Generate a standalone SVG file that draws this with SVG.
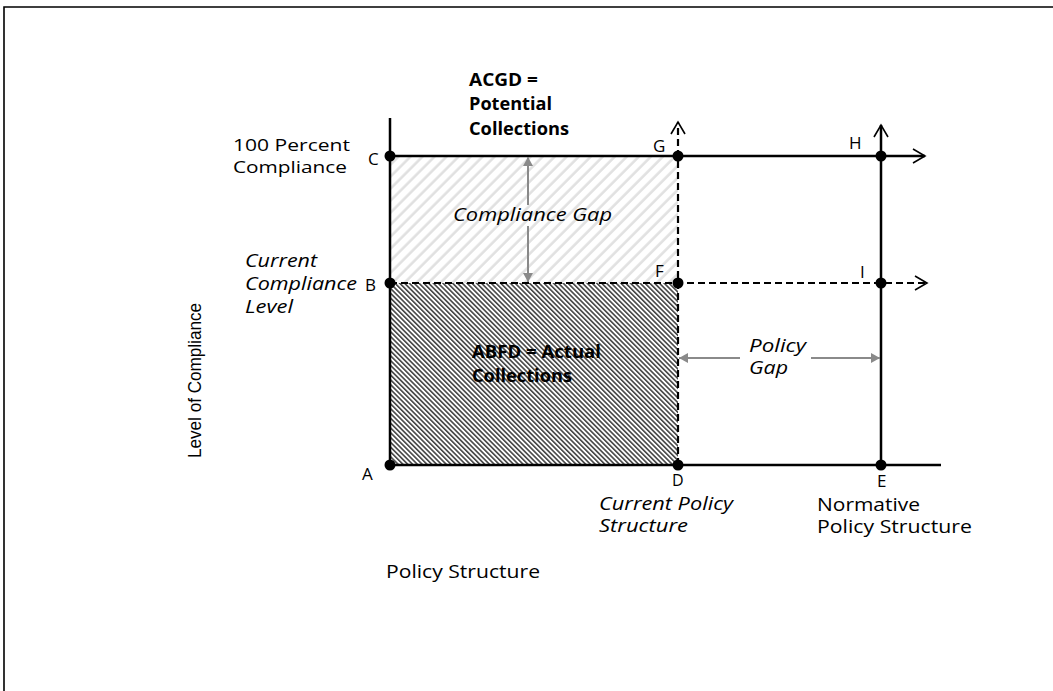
<svg xmlns="http://www.w3.org/2000/svg" width="1053" height="691" viewBox="0 0 1053 691">
<defs>
<style>
text{font-family:"Open Sans","Liberation Sans",sans-serif;font-size:18px;fill:#000}
.it{font-style:italic}
.b{font-weight:bold}
.lab{font-size:17px}
.sm{font-size:17px}
.ax{stroke:#000;stroke-width:2.5;fill:none}
.dash{stroke:#000;stroke-width:2.2;stroke-dasharray:7 4;fill:none}
.gap{stroke:#8a8a8a;stroke-width:2;fill:none}
.dot{fill:#000}
</style>
<pattern id="light" width="8.5" height="8.5" patternUnits="userSpaceOnUse" patternTransform="rotate(45)">
<rect width="8.5" height="8.5" fill="#fff"/>
<line x1="1.5" y1="0" x2="1.5" y2="8.5" stroke="#e0e0e0" stroke-width="2.5"/>
</pattern>
<pattern id="dark" width="3.4" height="3.4" patternUnits="userSpaceOnUse" patternTransform="rotate(-45)">
<rect width="3.4" height="3.4" fill="#fff"/>
<line x1="0.8" y1="0" x2="0.8" y2="3.4" stroke="#444" stroke-width="1.6"/>
</pattern>
<marker id="open" viewBox="-14 -9 16 18" markerWidth="16" markerHeight="18" refX="0" refY="0" orient="auto" markerUnits="userSpaceOnUse">
<path d="M-12,-7 L0,0 L-12,7" fill="none" stroke="#000" stroke-width="1.6"/>
</marker>
<marker id="gray" viewBox="-10 -6 12 12" markerWidth="12" markerHeight="12" refX="0" refY="0" orient="auto" markerUnits="userSpaceOnUse">
<path d="M-9,-5 L0,0 L-9,5 Z" fill="#8a8a8a"/>
</marker>
</defs>
<rect width="1053" height="691" fill="#fff"/>
<path d="M4,691 L4,7 L1053,7" fill="none" stroke="#000" stroke-width="1.6"/>

<g id="regions">
<rect x="390" y="156" width="288" height="127" fill="url(#light)"/>
<rect x="390" y="283" width="288" height="182" fill="url(#dark)"/>
</g>

<g id="connectors">
<line class="ax" x1="390" y1="118" x2="390" y2="465"/>
<line class="ax" x1="390" y1="465" x2="941" y2="465"/>
<line class="ax" x1="390" y1="156" x2="925" y2="156" marker-end="url(#open)"/>
<line class="dash" x1="390" y1="283" x2="927" y2="283" marker-end="url(#open)"/>
<line class="dash" x1="678" y1="465" x2="678" y2="122" marker-end="url(#open)"/>
<line class="ax" x1="881" y1="465" x2="881" y2="125" marker-end="url(#open)"/>
<line class="gap" x1="528" y1="205" x2="528" y2="157" marker-end="url(#gray)"/>
<line class="gap" x1="528" y1="226" x2="528" y2="282" marker-end="url(#gray)"/>
<line class="gap" x1="740" y1="358" x2="679" y2="358" marker-end="url(#gray)"/>
<line class="gap" x1="811" y1="358" x2="880" y2="358" marker-end="url(#gray)"/>
</g>

<g id="points">
<circle class="dot" cx="390" cy="156" r="5.5"/>
<circle class="dot" cx="678" cy="156" r="5.5"/>
<circle class="dot" cx="881" cy="156" r="5.5"/>
<circle class="dot" cx="390" cy="283" r="5.5"/>
<circle class="dot" cx="678" cy="283" r="5.5"/>
<circle class="dot" cx="881" cy="283" r="5.5"/>
<circle class="dot" cx="390" cy="465" r="5.5"/>
<circle class="dot" cx="678" cy="465" r="5.5"/>
<circle class="dot" cx="881" cy="465" r="5.5"/>
</g>

<g id="point-labels">
<text class="lab" x="368" y="165">C</text>
<text class="lab" x="653" y="152">G</text>
<text class="lab" x="849" y="149">H</text>
<text class="lab" x="365" y="291">B</text>
<text class="lab" x="655" y="277">F</text>
<text class="lab" x="860" y="278">I</text>
<text class="lab" x="362" y="480">A</text>
<text class="lab" x="672" y="486" style="font-size:16px">D</text>
<text class="lab" x="877" y="487">E</text>
</g>

<g id="acgd">
<text class="b" x="469" y="86" textLength="69" lengthAdjust="spacingAndGlyphs">ACGD =</text>
<text class="b" x="469" y="110" textLength="83" lengthAdjust="spacingAndGlyphs">Potential</text>
<text class="b" x="469" y="135" textLength="100" lengthAdjust="spacingAndGlyphs">Collections</text>
</g>

<g id="abfd">
<text class="b" x="472" y="358" textLength="129" lengthAdjust="spacingAndGlyphs">ABFD = Actual</text>
<text class="b" x="472" y="382" textLength="100" lengthAdjust="spacingAndGlyphs">Collections</text>
</g>

<g id="full-compliance">
<text class="sm" x="233" y="151" textLength="117" lengthAdjust="spacingAndGlyphs">100 Percent</text>
<text class="sm" x="233" y="173" textLength="114" lengthAdjust="spacingAndGlyphs">Compliance</text>
</g>

<g id="current-compliance">
<text class="it" x="245" y="267" textLength="72" lengthAdjust="spacingAndGlyphs">Current</text>
<text class="it" x="245" y="290" textLength="112" lengthAdjust="spacingAndGlyphs">Compliance</text>
<text class="it" x="245" y="313" textLength="48" lengthAdjust="spacingAndGlyphs">Level</text>
</g>

<g id="compliance-gap">
<text class="it" x="453" y="221" textLength="159" lengthAdjust="spacingAndGlyphs">Compliance Gap</text>
</g>

<g id="policy-gap">
<text class="it" x="749" y="352" textLength="57" lengthAdjust="spacingAndGlyphs">Policy</text>
<text class="it" x="749" y="374" textLength="39" lengthAdjust="spacingAndGlyphs">Gap</text>
</g>

<g id="current-policy">
<text class="it" x="599" y="510" textLength="134" lengthAdjust="spacingAndGlyphs">Current Policy</text>
<text class="it" x="599" y="532" textLength="89" lengthAdjust="spacingAndGlyphs">Structure</text>
</g>

<g id="normative-policy">
<text x="817" y="511" textLength="103" lengthAdjust="spacingAndGlyphs">Normative</text>
<text x="817" y="533" textLength="155" lengthAdjust="spacingAndGlyphs">Policy Structure</text>
</g>

<g id="x-axis-title">
<text x="386" y="578" textLength="154" lengthAdjust="spacingAndGlyphs">Policy Structure</text>
</g>

<g id="y-axis-title">
<text transform="translate(201,458) rotate(-90)" x="0" y="0" style="font-family:'Liberation Sans',sans-serif;font-size:19px" textLength="155" lengthAdjust="spacingAndGlyphs">Level of Compliance</text>
</g>
</svg>
